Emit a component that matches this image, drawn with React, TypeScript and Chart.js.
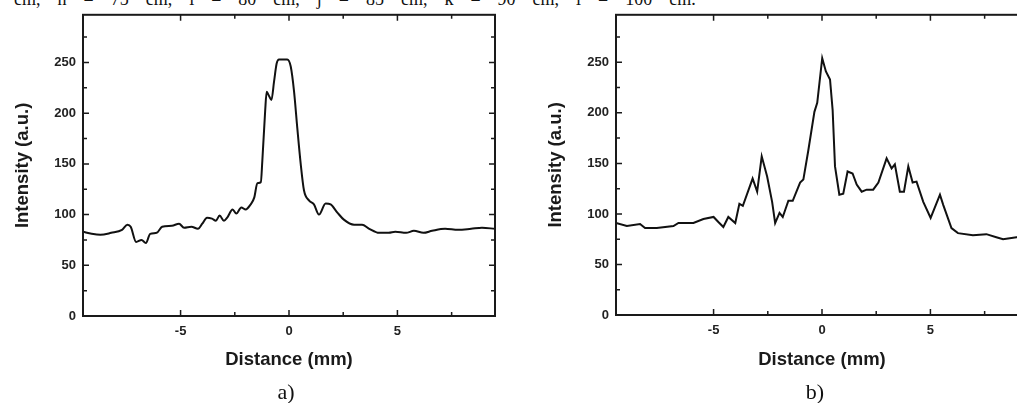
import { useEffect, useRef } from "react";
import Chart from "chart.js/auto";

// profile a) - distance (mm) / intensity (a.u.)
const distanceA = [
	-9.5, -9.1, -8.7, -8.2, -7.7, -7.45, -7.3, -7.05, -6.8, -6.6, -6.4, -6.1, -5.85, -5.4, -5.07,
	-4.84, -4.5, -4.2, -4.0, -3.78, -3.55, -3.37, -3.2, -3.0, -2.85, -2.6, -2.43, -2.2, -2.0,
	-1.77, -1.6, -1.46, -1.3, -1.23, -1.1, -1.03, -0.92, -0.81, -0.69, -0.57, -0.46, -0.08,
	0.08, 0.23, 0.38, 0.54, 0.69, 0.92, 1.15, 1.38, 1.69, 1.92, 2.23, 2.53, 3.0, 3.37, 3.7,
	4.15, 4.6, 4.9, 5.4, 5.76, 6.2, 6.6, 7.2, 7.8, 8.4, 8.9, 9.5,
];
const intensityA = [
	83, 81, 80, 82, 85, 90, 88, 73, 75, 72, 81, 82, 88, 89, 91,
	87, 88, 86, 91, 97, 96, 94, 99, 94, 97, 105, 101, 107, 105,
	110, 117, 131, 132, 153, 202, 221, 217, 213, 231, 249, 253, 253,
	246, 222, 186, 150, 124, 114, 110, 100, 111, 110, 102, 95, 90, 90, 86,
	82, 82, 83, 82, 84, 82, 84, 86, 85, 86, 87, 86,
];

// profile b)
const distanceB = [
	-9.5, -9.0, -8.39, -8.16, -7.62, -6.85, -6.62, -5.93, -5.47, -5.0, -4.78, -4.55, -4.32, -4.0,
	-3.81, -3.65, -3.2, -2.99, -2.78, -2.53, -2.3, -2.16, -1.96, -1.81, -1.55, -1.35, -1.01,
	-0.86, -0.63, -0.35, -0.22, 0.01, 0.18, 0.37, 0.49, 0.6, 0.8, 0.98, 1.18, 1.41, 1.6, 1.83,
	2.06, 2.36, 2.6, 2.98, 3.21, 3.36, 3.59, 3.78, 3.98, 4.18, 4.36, 4.67, 5.01, 5.44, 5.59,
	5.97, 6.27, 6.96, 7.58, 8.04, 8.35, 8.97, 9.5,
];
const intensityB = [
	91, 88, 90, 86, 86, 88, 91, 91, 95, 97, 92, 87, 97, 91,
	110, 108, 135, 122, 157, 137, 112, 91, 101, 97, 113, 113, 131,
	134, 163, 201, 210, 254, 241, 233, 203, 147, 119, 120, 142, 140, 129, 122,
	124, 124, 131, 155, 145, 149, 122, 122, 147, 131, 132, 112, 96, 119, 109,
	86, 81, 79, 80, 77, 75, 77, 78,
];

const xTickLabels = [-5, 0, 5];
const yTickLabels = [0, 50, 100, 150, 200, 250];

const SANS = "'Liberation Sans', Arial, sans-serif";
const INK = "#1a1a1a";

// closed frame with inward ticks on all four sides (Origin style)
const frameTicks = {
	id: "frameTicks",
	afterDraw(chart: any) {
		const { ctx, chartArea: a, scales } = chart;
		ctx.save();
		ctx.strokeStyle = INK;
		ctx.lineWidth = 2;
		ctx.strokeRect(a.left, a.top, a.right - a.left, a.bottom - a.top);
		ctx.lineWidth = 1.5;
		ctx.beginPath();
		for (const t of scales.x.ticks) {
			const q = t.value / 2.5;
			if (Math.abs(q - Math.round(q)) > 1e-6) continue;
			const len = Math.round(q) % 2 === 0 ? 6 : 4;
			const px = scales.x.getPixelForValue(t.value);
			ctx.moveTo(px, a.bottom);
			ctx.lineTo(px, a.bottom - len);
			ctx.moveTo(px, a.top);
			ctx.lineTo(px, a.top + len);
		}
		for (const t of scales.y.ticks) {
			const q = t.value / 25;
			if (Math.abs(q - Math.round(q)) > 1e-6) continue;
			const len = Math.round(q) % 2 === 0 ? 6 : 4;
			const py = scales.y.getPixelForValue(t.value);
			ctx.moveTo(a.left, py);
			ctx.lineTo(a.left + len, py);
			ctx.moveTo(a.right, py);
			ctx.lineTo(a.right - len, py);
		}
		ctx.stroke();
		ctx.restore();
	},
};

const W = 505;
const H = 380;

interface ProfileI {
	xs: number[];
	ys: number[];
	left: number;
	bottom: number;
	smooth: boolean;
}

const Profile = ({ xs, ys, left, bottom, smooth }: ProfileI) => {
	const chartRef = useRef<HTMLCanvasElement | null>(null);

	useEffect(() => {
		if (!chartRef.current) return;
		const tickFont = { family: SANS, size: 13, weight: "bold" as const };
		const titleFont = { family: SANS, size: 18.5, weight: "bold" as const };

		const chart = new Chart(chartRef.current, {
			type: "line",
			data: {
				datasets: [
					{
						data: xs.map((x, i) => ({ x, y: ys[i] })),
						borderColor: "#111",
						borderWidth: 2,
						pointRadius: 0,
						fill: false,
						tension: 0,
						cubicInterpolationMode: smooth ? "monotone" : "default",
					},
				],
			},
			options: {
				animation: false,
				responsive: false,
				maintainAspectRatio: false,
				layout: { padding: { top: 13, right: 10, left: 0, bottom: 0 } },
				plugins: { legend: { display: false }, tooltip: { enabled: false } },
				scales: {
					x: {
						type: "linear",
						min: -9.5,
						max: 9.5,
						grid: { display: false, drawTicks: false },
						border: { display: false },
						ticks: {
							stepSize: 2.5,
							autoSkip: false,
							maxRotation: 0,
							padding: 8,
							color: "#222",
							font: tickFont,
							callback: (v: any) => (xTickLabels.includes(Number(v)) ? String(v) : ""),
						},
						title: {
							display: true,
							text: "Distance (mm)",
							color: INK,
							font: titleFont,
							padding: { top: 0, bottom: 9 },
						},
						afterFit: (s: any) => {
							s.height = H - bottom;
						},
					},
					y: {
						min: 0,
						max: 297,
						grid: { display: false, drawTicks: false },
						border: { display: false },
						ticks: {
							stepSize: 25,
							autoSkip: false,
							padding: 7,
							color: "#222",
							font: tickFont,
							callback: (v: any) => (yTickLabels.includes(Number(v)) ? String(v) : ""),
						},
						title: {
							display: true,
							text: "Intensity (a.u.)",
							color: INK,
							font: titleFont,
							padding: { top: 11.5, bottom: 0 },
						},
						afterFit: (s: any) => {
							s.width = 83;
						},
					},
				},
			},
			plugins: [frameTicks],
		});

		return () => {
			chart.destroy();
		};
	}, [xs, ys, bottom, smooth]);

	return (
		<canvas
			ref={chartRef}
			width={W}
			height={H}
			style={{ position: "absolute", left, top: 0, width: W, height: H }}
		/>
	);
};

const panelLabel = {
	position: "absolute" as const,
	top: 378,
	width: 60,
	textAlign: "center" as const,
	fontFamily: "'Liberation Serif', 'Times New Roman', serif",
	fontSize: 22,
	lineHeight: "28px",
	color: "#111",
};

export default function App() {
	return (
		<div
			style={{
				position: "fixed",
				left: 0,
				top: 0,
				width: 1017,
				height: 403,
				overflow: "hidden",
				background: "#fff",
			}}
		>
			<div
				style={{
					position: "absolute",
					left: -21,
					top: -10,
					whiteSpace: "nowrap",
					fontFamily: "'Liberation Serif', 'Times New Roman', serif",
					fontSize: 18,
					lineHeight: "18px",
					wordSpacing: 12.5,
					color: "#111",
				}}
			>
				70 cm, h = 75 cm, i = 80 cm, j = 85 cm, k = 90 cm, l = 100 cm.
			</div>
			<Profile xs={distanceA} ys={intensityA} left={0} bottom={316} smooth={true} />
			<Profile xs={distanceB} ys={intensityB} left={533} bottom={315} smooth={false} />
			<div style={{ ...panelLabel, left: 256 }}>a)</div>
			<div style={{ ...panelLabel, left: 785 }}>b)</div>
		</div>
	);
}
